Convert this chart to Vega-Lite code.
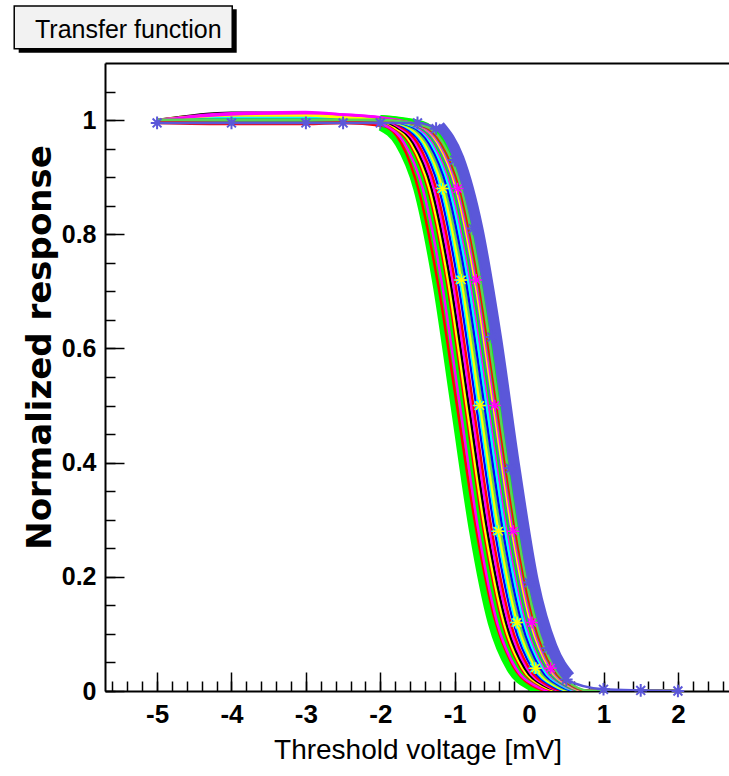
{
  "$schema": "https://vega.github.io/schema/vega-lite/v6.json",
  "width": 625,
  "height": 628,
  "autosize": {"type": "none"},
  "padding": {"left": 105, "top": 63, "right": 0, "bottom": 85},
  "background": "white",
  "config": {"view": {"stroke": null}},
  "title": {"text": "Transfer function", "anchor": "start", "frame": "group", "font": "Liberation Sans", "fontSize": 25, "fontWeight": "normal", "color": "#000", "baseline": "alphabetic", "offset": 0, "dy": 58, "dx": -70},
  "data": {"values": [
    {"c":"G1","x":-5,"y":1},{"c":"G1","x":-4,"y":1},{"c":"G1","x":-3,"y":1},{"c":"G1","x":-2.5,"y":1},{"c":"G1","x":-1.99,"y":0.99},{"c":"G1","x":-1.74,"y":0.96},{"c":"G1","x":-1.49,"y":0.88},{"c":"G1","x":-1.24,"y":0.72},{"c":"G1","x":-0.99,"y":0.5},{"c":"G1","x":-0.74,"y":0.28},{"c":"G1","x":-0.49,"y":0.12},{"c":"G1","x":-0.24,"y":0.04},{"c":"G1","x":0.01,"y":0.01},{"c":"G1","x":0.26,"y":0},{"c":"G1","x":1,"y":0},{"c":"G1","x":1.5,"y":0},{"c":"G1","x":2,"y":0},
    {"c":"G2","x":-5,"y":1},{"c":"G2","x":-4,"y":1.005},{"c":"G2","x":-3,"y":1.005},{"c":"G2","x":-2.5,"y":1},{"c":"G2","x":-1.9,"y":0.99},{"c":"G2","x":-1.65,"y":0.96},{"c":"G2","x":-1.4,"y":0.88},{"c":"G2","x":-1.15,"y":0.72},{"c":"G2","x":-0.9,"y":0.5},{"c":"G2","x":-0.65,"y":0.28},{"c":"G2","x":-0.4,"y":0.12},{"c":"G2","x":-0.15,"y":0.04},{"c":"G2","x":0.1,"y":0.01},{"c":"G2","x":0.35,"y":0},{"c":"G2","x":1,"y":0},{"c":"G2","x":1.5,"y":0},{"c":"G2","x":2,"y":0},
    {"c":"r1","x":-5,"y":0.995},{"c":"r1","x":-4,"y":0.993},{"c":"r1","x":-3,"y":0.993},{"c":"r1","x":-2.5,"y":0.995},{"c":"r1","x":-1.97,"y":0.99},{"c":"r1","x":-1.72,"y":0.96},{"c":"r1","x":-1.47,"y":0.87},{"c":"r1","x":-1.22,"y":0.71},{"c":"r1","x":-0.97,"y":0.5},{"c":"r1","x":-0.72,"y":0.29},{"c":"r1","x":-0.47,"y":0.13},{"c":"r1","x":-0.22,"y":0.045},{"c":"r1","x":0.03,"y":0.01},{"c":"r1","x":0.28,"y":0},{"c":"r1","x":1,"y":0},{"c":"r1","x":1.5,"y":0},{"c":"r1","x":2,"y":0},
    {"c":"m1","x":-5,"y":1},{"c":"m1","x":-4,"y":1.008},{"c":"m1","x":-3,"y":1.008},{"c":"m1","x":-2.5,"y":1.003},{"c":"m1","x":-1.93,"y":0.99},{"c":"m1","x":-1.68,"y":0.96},{"c":"m1","x":-1.43,"y":0.88},{"c":"m1","x":-1.18,"y":0.72},{"c":"m1","x":-0.93,"y":0.5},{"c":"m1","x":-0.68,"y":0.28},{"c":"m1","x":-0.43,"y":0.12},{"c":"m1","x":-0.18,"y":0.04},{"c":"m1","x":0.07,"y":0.01},{"c":"m1","x":0.32,"y":0},{"c":"m1","x":1,"y":0},{"c":"m1","x":1.5,"y":0},{"c":"m1","x":2,"y":0},
    {"c":"r2","x":-5,"y":1},{"c":"r2","x":-4,"y":1},{"c":"r2","x":-3,"y":1},{"c":"r2","x":-2.5,"y":1},{"c":"r2","x":-2,"y":1},{"c":"r2","x":-1.86,"y":0.99},{"c":"r2","x":-1.61,"y":0.96},{"c":"r2","x":-1.36,"y":0.88},{"c":"r2","x":-1.11,"y":0.72},{"c":"r2","x":-0.86,"y":0.5},{"c":"r2","x":-0.61,"y":0.28},{"c":"r2","x":-0.36,"y":0.12},{"c":"r2","x":-0.11,"y":0.04},{"c":"r2","x":0.14,"y":0.01},{"c":"r2","x":0.39,"y":0},{"c":"r2","x":1,"y":0},{"c":"r2","x":1.5,"y":0},{"c":"r2","x":2,"y":0},
    {"c":"y1","x":-5,"y":1},{"c":"y1","x":-4,"y":1.012},{"c":"y1","x":-3,"y":1.012},{"c":"y1","x":-2.5,"y":1.006},{"c":"y1","x":-2,"y":1},{"c":"y1","x":-1.84,"y":0.99},{"c":"y1","x":-1.59,"y":0.96},{"c":"y1","x":-1.34,"y":0.88},{"c":"y1","x":-1.09,"y":0.72},{"c":"y1","x":-0.84,"y":0.5},{"c":"y1","x":-0.59,"y":0.28},{"c":"y1","x":-0.34,"y":0.12},{"c":"y1","x":-0.09,"y":0.04},{"c":"y1","x":0.16,"y":0.01},{"c":"y1","x":0.41,"y":0},{"c":"y1","x":1,"y":-0.002},{"c":"y1","x":1.5,"y":0},{"c":"y1","x":2,"y":0},
    {"c":"k1","x":-5,"y":1},{"c":"k1","x":-4,"y":1.013},{"c":"k1","x":-3,"y":1.012},{"c":"k1","x":-2.5,"y":1.006},{"c":"k1","x":-2,"y":1},{"c":"k1","x":-1.81,"y":0.99},{"c":"k1","x":-1.56,"y":0.96},{"c":"k1","x":-1.31,"y":0.88},{"c":"k1","x":-1.06,"y":0.72},{"c":"k1","x":-0.81,"y":0.5},{"c":"k1","x":-0.56,"y":0.28},{"c":"k1","x":-0.31,"y":0.12},{"c":"k1","x":-0.06,"y":0.04},{"c":"k1","x":0.19,"y":0.01},{"c":"k1","x":0.44,"y":0},{"c":"k1","x":1,"y":-0.004},{"c":"k1","x":1.5,"y":-0.002},{"c":"k1","x":2,"y":0},
    {"c":"m2","x":-5,"y":1},{"c":"m2","x":-4,"y":1.01},{"c":"m2","x":-3,"y":1.012},{"c":"m2","x":-2.5,"y":1.008},{"c":"m2","x":-2,"y":1.002},{"c":"m2","x":-1.78,"y":0.99},{"c":"m2","x":-1.53,"y":0.96},{"c":"m2","x":-1.28,"y":0.88},{"c":"m2","x":-1.03,"y":0.72},{"c":"m2","x":-0.78,"y":0.5},{"c":"m2","x":-0.53,"y":0.28},{"c":"m2","x":-0.28,"y":0.12},{"c":"m2","x":-0.03,"y":0.04},{"c":"m2","x":0.22,"y":0.01},{"c":"m2","x":0.47,"y":0},{"c":"m2","x":1,"y":0},{"c":"m2","x":1.5,"y":0},{"c":"m2","x":2,"y":0},
    {"c":"r3","x":-5,"y":0.998},{"c":"r3","x":-4,"y":0.996},{"c":"r3","x":-3,"y":0.996},{"c":"r3","x":-2.5,"y":0.998},{"c":"r3","x":-2,"y":1},{"c":"r3","x":-1.75,"y":0.99},{"c":"r3","x":-1.5,"y":0.96},{"c":"r3","x":-1.25,"y":0.88},{"c":"r3","x":-1,"y":0.72},{"c":"r3","x":-0.75,"y":0.5},{"c":"r3","x":-0.5,"y":0.28},{"c":"r3","x":-0.25,"y":0.12},{"c":"r3","x":0,"y":0.04},{"c":"r3","x":0.25,"y":0.01},{"c":"r3","x":0.5,"y":0},{"c":"r3","x":1,"y":0},{"c":"r3","x":1.5,"y":0},{"c":"r3","x":2,"y":0},
    {"c":"b1","x":-5,"y":1},{"c":"b1","x":-4,"y":1},{"c":"b1","x":-3,"y":1},{"c":"b1","x":-2.5,"y":1},{"c":"b1","x":-2,"y":1},{"c":"b1","x":-1.71,"y":0.99},{"c":"b1","x":-1.46,"y":0.96},{"c":"b1","x":-1.21,"y":0.88},{"c":"b1","x":-0.96,"y":0.72},{"c":"b1","x":-0.71,"y":0.5},{"c":"b1","x":-0.46,"y":0.28},{"c":"b1","x":-0.21,"y":0.12},{"c":"b1","x":0.04,"y":0.04},{"c":"b1","x":0.29,"y":0.01},{"c":"b1","x":0.54,"y":0},{"c":"b1","x":1,"y":0},{"c":"b1","x":1.5,"y":0},{"c":"b1","x":2,"y":0},
    {"c":"c1","x":-5,"y":1},{"c":"c1","x":-4,"y":1.004},{"c":"c1","x":-3,"y":1.004},{"c":"c1","x":-2.5,"y":1.002},{"c":"c1","x":-2,"y":1},{"c":"c1","x":-1.68,"y":0.99},{"c":"c1","x":-1.43,"y":0.96},{"c":"c1","x":-1.18,"y":0.88},{"c":"c1","x":-0.93,"y":0.72},{"c":"c1","x":-0.68,"y":0.5},{"c":"c1","x":-0.43,"y":0.28},{"c":"c1","x":-0.18,"y":0.12},{"c":"c1","x":0.07,"y":0.04},{"c":"c1","x":0.32,"y":0.01},{"c":"c1","x":0.57,"y":0},{"c":"c1","x":1,"y":0},{"c":"c1","x":1.5,"y":0},{"c":"c1","x":2,"y":0},
    {"c":"y2","x":-5,"y":1},{"c":"y2","x":-4,"y":1.01},{"c":"y2","x":-3,"y":1.01},{"c":"y2","x":-2.5,"y":1.005},{"c":"y2","x":-2,"y":1},{"c":"y2","x":-1.66,"y":0.99},{"c":"y2","x":-1.41,"y":0.96},{"c":"y2","x":-1.16,"y":0.88},{"c":"y2","x":-0.91,"y":0.72},{"c":"y2","x":-0.66,"y":0.5},{"c":"y2","x":-0.41,"y":0.28},{"c":"y2","x":-0.16,"y":0.12},{"c":"y2","x":0.09,"y":0.04},{"c":"y2","x":0.34,"y":0.01},{"c":"y2","x":0.59,"y":0},{"c":"y2","x":1,"y":0},{"c":"y2","x":1.5,"y":0},{"c":"y2","x":2,"y":0},
    {"c":"d1","x":-5,"y":1},{"c":"d1","x":-4,"y":1},{"c":"d1","x":-3,"y":1},{"c":"d1","x":-2.5,"y":1},{"c":"d1","x":-2,"y":1},{"c":"d1","x":-1.63,"y":0.99},{"c":"d1","x":-1.38,"y":0.96},{"c":"d1","x":-1.13,"y":0.88},{"c":"d1","x":-0.88,"y":0.72},{"c":"d1","x":-0.63,"y":0.5},{"c":"d1","x":-0.38,"y":0.28},{"c":"d1","x":-0.13,"y":0.12},{"c":"d1","x":0.12,"y":0.04},{"c":"d1","x":0.37,"y":0.01},{"c":"d1","x":0.62,"y":0},{"c":"d1","x":1,"y":0},{"c":"d1","x":1.5,"y":0},{"c":"d1","x":2,"y":0},
    {"c":"b2","x":-5,"y":1},{"c":"b2","x":-4,"y":1},{"c":"b2","x":-3,"y":1},{"c":"b2","x":-2.5,"y":1},{"c":"b2","x":-2,"y":1},{"c":"b2","x":-1.6,"y":0.99},{"c":"b2","x":-1.35,"y":0.96},{"c":"b2","x":-1.1,"y":0.88},{"c":"b2","x":-0.85,"y":0.72},{"c":"b2","x":-0.6,"y":0.5},{"c":"b2","x":-0.35,"y":0.28},{"c":"b2","x":-0.1,"y":0.12},{"c":"b2","x":0.15,"y":0.04},{"c":"b2","x":0.4,"y":0.01},{"c":"b2","x":0.65,"y":0},{"c":"b2","x":1,"y":0},{"c":"b2","x":1.5,"y":0},{"c":"b2","x":2,"y":0},
    {"c":"c2","x":-5,"y":1},{"c":"c2","x":-4,"y":1},{"c":"c2","x":-3,"y":1},{"c":"c2","x":-2.5,"y":1},{"c":"c2","x":-2,"y":1},{"c":"c2","x":-1.57,"y":0.99},{"c":"c2","x":-1.32,"y":0.96},{"c":"c2","x":-1.07,"y":0.88},{"c":"c2","x":-0.82,"y":0.72},{"c":"c2","x":-0.57,"y":0.5},{"c":"c2","x":-0.32,"y":0.28},{"c":"c2","x":-0.07,"y":0.12},{"c":"c2","x":0.18,"y":0.04},{"c":"c2","x":0.43,"y":0.01},{"c":"c2","x":0.68,"y":0},{"c":"c2","x":1,"y":0},{"c":"c2","x":1.5,"y":0},{"c":"c2","x":2,"y":0},
    {"c":"m3","x":-5,"y":1},{"c":"m3","x":-4,"y":1.012},{"c":"m3","x":-3,"y":1.014},{"c":"m3","x":-2.5,"y":1.01},{"c":"m3","x":-2,"y":1.004},{"c":"m3","x":-1.54,"y":0.99},{"c":"m3","x":-1.29,"y":0.96},{"c":"m3","x":-1.04,"y":0.88},{"c":"m3","x":-0.79,"y":0.72},{"c":"m3","x":-0.54,"y":0.5},{"c":"m3","x":-0.29,"y":0.28},{"c":"m3","x":-0.04,"y":0.12},{"c":"m3","x":0.21,"y":0.04},{"c":"m3","x":0.46,"y":0.01},{"c":"m3","x":0.71,"y":0},{"c":"m3","x":1,"y":0},{"c":"m3","x":1.5,"y":0},{"c":"m3","x":2,"y":0},
    {"c":"G3","x":-5,"y":1},{"c":"G3","x":-4,"y":1},{"c":"G3","x":-3,"y":1},{"c":"G3","x":-2.5,"y":1},{"c":"G3","x":-2,"y":1},{"c":"G3","x":-1.52,"y":0.99},{"c":"G3","x":-1.27,"y":0.96},{"c":"G3","x":-1.02,"y":0.88},{"c":"G3","x":-0.77,"y":0.72},{"c":"G3","x":-0.52,"y":0.5},{"c":"G3","x":-0.27,"y":0.28},{"c":"G3","x":-0.02,"y":0.12},{"c":"G3","x":0.23,"y":0.04},{"c":"G3","x":0.48,"y":0.01},{"c":"G3","x":0.73,"y":0},{"c":"G3","x":1,"y":0},{"c":"G3","x":1.5,"y":0},{"c":"G3","x":2,"y":0},
    {"c":"v1","x":-5,"y":1},{"c":"v1","x":-4,"y":1},{"c":"v1","x":-3,"y":1},{"c":"v1","x":-2.5,"y":1},{"c":"v1","x":-2,"y":1},{"c":"v1","x":-1.5,"y":0.99},{"c":"v1","x":-1.25,"y":0.96},{"c":"v1","x":-1,"y":0.88},{"c":"v1","x":-0.75,"y":0.72},{"c":"v1","x":-0.5,"y":0.5},{"c":"v1","x":-0.25,"y":0.28},{"c":"v1","x":0,"y":0.12},{"c":"v1","x":0.25,"y":0.04},{"c":"v1","x":0.5,"y":0.01},{"c":"v1","x":0.75,"y":0},{"c":"v1","x":1,"y":0},{"c":"v1","x":1.5,"y":0},{"c":"v1","x":2,"y":0},
    {"c":"y3","x":-5,"y":1},{"c":"y3","x":-4,"y":1.008},{"c":"y3","x":-3,"y":1.008},{"c":"y3","x":-2.5,"y":1.004},{"c":"y3","x":-2,"y":1},{"c":"y3","x":-1.48,"y":0.99},{"c":"y3","x":-1.23,"y":0.96},{"c":"y3","x":-0.98,"y":0.88},{"c":"y3","x":-0.73,"y":0.72},{"c":"y3","x":-0.48,"y":0.5},{"c":"y3","x":-0.23,"y":0.28},{"c":"y3","x":0.02,"y":0.12},{"c":"y3","x":0.27,"y":0.04},{"c":"y3","x":0.52,"y":0.01},{"c":"y3","x":0.77,"y":0},{"c":"y3","x":1,"y":0},{"c":"y3","x":1.5,"y":0},{"c":"y3","x":2,"y":0},
    {"c":"m4","x":-5,"y":1},{"c":"m4","x":-4,"y":1.01},{"c":"m4","x":-3,"y":1.012},{"c":"m4","x":-2.5,"y":1.01},{"c":"m4","x":-2,"y":1.005},{"c":"m4","x":-1.46,"y":0.99},{"c":"m4","x":-1.21,"y":0.96},{"c":"m4","x":-0.96,"y":0.88},{"c":"m4","x":-0.71,"y":0.72},{"c":"m4","x":-0.46,"y":0.5},{"c":"m4","x":-0.21,"y":0.28},{"c":"m4","x":0.04,"y":0.12},{"c":"m4","x":0.29,"y":0.04},{"c":"m4","x":0.54,"y":0.01},{"c":"m4","x":0.79,"y":0},{"c":"m4","x":1,"y":0},{"c":"m4","x":1.5,"y":0},{"c":"m4","x":2,"y":0},
    {"c":"G4","x":-5,"y":1},{"c":"G4","x":-4,"y":1},{"c":"G4","x":-3,"y":1},{"c":"G4","x":-2.5,"y":1},{"c":"G4","x":-2,"y":1},{"c":"G4","x":-1.44,"y":0.99},{"c":"G4","x":-1.19,"y":0.96},{"c":"G4","x":-0.94,"y":0.88},{"c":"G4","x":-0.69,"y":0.72},{"c":"G4","x":-0.44,"y":0.5},{"c":"G4","x":-0.19,"y":0.28},{"c":"G4","x":0.06,"y":0.12},{"c":"G4","x":0.31,"y":0.04},{"c":"G4","x":0.56,"y":0.01},{"c":"G4","x":0.81,"y":0},{"c":"G4","x":1,"y":0},{"c":"G4","x":1.5,"y":0},{"c":"G4","x":2,"y":0},
    {"c":"r4","x":-5,"y":0.997},{"c":"r4","x":-4,"y":0.995},{"c":"r4","x":-3,"y":0.995},{"c":"r4","x":-2.5,"y":0.997},{"c":"r4","x":-2,"y":1},{"c":"r4","x":-1.43,"y":0.99},{"c":"r4","x":-1.18,"y":0.96},{"c":"r4","x":-0.93,"y":0.88},{"c":"r4","x":-0.68,"y":0.72},{"c":"r4","x":-0.43,"y":0.5},{"c":"r4","x":-0.18,"y":0.28},{"c":"r4","x":0.07,"y":0.12},{"c":"r4","x":0.32,"y":0.04},{"c":"r4","x":0.57,"y":0.01},{"c":"r4","x":0.82,"y":0},{"c":"r4","x":1,"y":0},{"c":"r4","x":1.5,"y":0},{"c":"r4","x":2,"y":0},
    {"c":"d2","x":-5,"y":1},{"c":"d2","x":-4,"y":1},{"c":"d2","x":-3,"y":1},{"c":"d2","x":-2.5,"y":1},{"c":"d2","x":-2,"y":1},{"c":"d2","x":-1.41,"y":0.99},{"c":"d2","x":-1.16,"y":0.96},{"c":"d2","x":-0.91,"y":0.88},{"c":"d2","x":-0.66,"y":0.72},{"c":"d2","x":-0.41,"y":0.5},{"c":"d2","x":-0.16,"y":0.28},{"c":"d2","x":0.09,"y":0.12},{"c":"d2","x":0.34,"y":0.04},{"c":"d2","x":0.59,"y":0.01},{"c":"d2","x":0.84,"y":0},{"c":"d2","x":1,"y":0},{"c":"d2","x":1.5,"y":0},{"c":"d2","x":2,"y":0},
    {"c":"P","x":-5,"y":0.995},{"c":"P","x":-4,"y":0.995},{"c":"P","x":-3,"y":0.995},{"c":"P","x":-2.5,"y":0.995},{"c":"P","x":-2,"y":0.995},{"c":"P","x":-1.5,"y":0.995},{"c":"P","x":-1.25,"y":0.985},{"c":"P","x":-1,"y":0.93},{"c":"P","x":-0.75,"y":0.81},{"c":"P","x":-0.5,"y":0.62},{"c":"P","x":-0.25,"y":0.39},{"c":"P","x":0,"y":0.19},{"c":"P","x":0.25,"y":0.075},{"c":"P","x":0.5,"y":0.02},{"c":"P","x":1,"y":0.003},{"c":"P","x":1.5,"y":0.001},{"c":"P","x":2,"y":0}
  ]},
  "resolve": {"axis": {"x": "independent", "y": "independent"}},
  "layer": [
    {
      "data": {"values": [{}]},
      "mark": {"type": "rect", "fill": "#000000", "clip": false},
      "encoding": {
        "x": {"datum": -6.86, "type": "quantitative", "scale": {"domain": [-5.7, 2.7], "nice": false, "zero": false}, "axis": null},
        "x2": {"datum": -3.93},
        "y": {"datum": 1.194, "type": "quantitative", "scale": {"domain": [0, 1.1], "nice": false, "zero": false}, "axis": null},
        "y2": {"datum": 1.118}
      }
    },
    {
      "data": {"values": [{}]},
      "mark": {"type": "rect", "fill": "#f2f2f2", "stroke": "#000000", "strokeWidth": 1.5, "clip": false},
      "encoding": {
        "x": {"datum": -6.92, "type": "quantitative", "axis": null},
        "x2": {"datum": -3.99},
        "y": {"datum": 1.2, "type": "quantitative", "axis": null},
        "y2": {"datum": 1.125}
      }
    },
    {
      "transform": [{"filter": {"field": "c", "equal": "P"}}, {"filter": {"field": "x", "range": [-1.45, 0.55]}}],
      "mark": {"type": "line", "interpolate": "monotone", "strokeWidth": 20, "color": "#5b57d9", "clip": true, "strokeCap": "butt"},
      "encoding": {
        "x": {"field": "x", "type": "quantitative", "axis": {"orient": "bottom", "values": [-5.6,-5.4,-5.2,-5,-4.8,-4.6,-4.4,-4.2,-4,-3.8,-3.6,-3.4,-3.2,-3,-2.8,-2.6,-2.4,-2.2,-2,-1.8,-1.6,-1.4,-1.2,-1,-0.8,-0.6,-0.4,-0.2,0,0.2,0.4,0.6,0.8,1,1.2,1.4,1.6,1.8,2,2.2,2.4,2.6], "labels": false, "domain": false, "grid": false, "ticks": true, "tickSize": -10, "tickColor": "#000", "tickWidth": 1.5, "title": null}},
        "y": {"field": "y", "type": "quantitative", "axis": {"orient": "left", "values": [0,0.05,0.1,0.15,0.2,0.25,0.3,0.35,0.4,0.45,0.5,0.55,0.6,0.65,0.7,0.75,0.8,0.85,0.9,0.95,1,1.05], "labels": false, "domain": false, "grid": false, "ticks": true, "tickSize": -10, "tickColor": "#000", "tickWidth": 1.5, "title": null}}
      }
    },
    {
      "transform": [{"filter": {"field": "c", "oneOf": ["G1", "G2", "G3", "G4"]}}, {"filter": {"field": "x", "range": [-2.0, 0.3]}}],
      "mark": {"type": "line", "interpolate": "monotone", "strokeWidth": 10, "color": "#00ff00", "clip": true, "strokeCap": "butt"},
      "encoding": {
        "detail": {"field": "c"},
        "x": {"field": "x", "type": "quantitative", "axis": {"orient": "bottom", "values": [-5,-4,-3,-2,-1,0,1,2], "labels": false, "domain": false, "grid": false, "ticks": true, "tickSize": -19, "tickColor": "#000", "tickWidth": 1.5, "title": null}},
        "y": {"field": "y", "type": "quantitative", "axis": {"orient": "left", "values": [0,0.2,0.4,0.6,0.8,1], "labels": false, "domain": false, "grid": false, "ticks": true, "tickSize": -19, "tickColor": "#000", "tickWidth": 1.5, "title": null}}
      }
    },
    {
      "transform": [{"filter": {"not": {"field": "c", "equal": "P"}}}],
      "mark": {"type": "line", "interpolate": "monotone", "strokeWidth": 2.5, "clip": true},
      "encoding": {
        "color": {"field": "c", "type": "nominal", "legend": null, "scale": {
          "domain": ["G1","G2","r1","m1","r2","y1","k1","m2","r3","b1","c1","y2","d1","b2","c2","m3","G3","v1","y3","m4","G4","r4","d2","P"],
          "range": ["#00ff00","#00ff00","#ff0000","#ff00ff","#ff0000","#ffff00","#000000","#ff00ff","#ff0000","#0000ff","#00ffff","#ffff00","#59d454","#0000ff","#00ffff","#ff00ff","#00ff00","#5b57d9","#ffff00","#ff00ff","#00ff00","#ff0000","#59d454","#5b57d9"]}},
        "x": {"field": "x", "type": "quantitative", "axis": {"orient": "bottom", "values": [-5,-4,-3,-2,-1,0,1,2], "labelExpr": "datum.value < 0 ? '-' + abs(datum.value) : '' + datum.value", "ticks": false, "grid": false, "domain": true, "domainColor": "#000", "domainWidth": 2, "labelFont": "Liberation Sans", "labelFontWeight": "bold", "labelFontSize": 26, "labelColor": "#000", "labelPadding": 10, "labelFlush": false, "labelOverlap": false, "title": "Threshold voltage [mV]", "titleFont": "Liberation Sans", "titleFontSize": 28, "titleFontWeight": "normal", "titleColor": "#000", "titlePadding": 9}},
        "y": {"field": "y", "type": "quantitative", "axis": {"orient": "left", "values": [0,0.2,0.4,0.6,0.8,1], "labelExpr": "'' + datum.value", "ticks": false, "grid": false, "domain": true, "domainColor": "#000", "domainWidth": 2, "labelFont": "Liberation Sans", "labelFontWeight": "bold", "labelFontSize": 25, "labelColor": "#000", "labelPadding": 9, "labelFlush": false, "labelOverlap": false, "title": "Normalized response", "titleFont": "DejaVu Sans", "titleFontSize": 34, "titleFontWeight": "bold", "titleColor": "#000", "titlePadding": 4, "titleY": 284}}
      }
    },
    {
      "transform": [{"filter": {"field": "c", "equal": "P"}}],
      "mark": {"type": "line", "interpolate": "monotone", "strokeWidth": 2.5, "color": "#5b57d9", "clip": true},
      "encoding": {
        "x": {"field": "x", "type": "quantitative", "axis": {"orient": "top", "labels": false, "ticks": false, "grid": false, "domain": true, "domainColor": "#000", "domainWidth": 2, "title": null}},
        "y": {"field": "y", "type": "quantitative", "axis": null}
      }
    },
    {
      "transform": [{"filter": {"field": "c", "oneOf": ["c1","y2","m4"]}}, {"filter": {"field": "x", "range": [-1.2, 0.3]}}],
      "mark": {"type": "point", "shape": "M-1,0L1,0M0,-1L0,1M-0.7,-0.7L0.7,0.7M-0.7,0.7L0.7,-0.7", "filled": false, "size": 140, "strokeWidth": 1.5, "opacity": 1},
      "encoding": {
        "color": {"field": "c", "type": "nominal", "legend": null},
        "x": {"field": "x", "type": "quantitative", "axis": null},
        "y": {"field": "y", "type": "quantitative", "axis": null}
      }
    },
    {
      "transform": [{"filter": {"field": "c", "equal": "P"}}],
      "mark": {"type": "point", "shape": "M-1,0L1,0M0,-1L0,1M-0.7,-0.7L0.7,0.7M-0.7,0.7L0.7,-0.7", "filled": false, "size": 160, "strokeWidth": 2, "color": "#5b57d9", "opacity": 1},
      "encoding": {
        "x": {"field": "x", "type": "quantitative", "axis": null},
        "y": {"field": "y", "type": "quantitative", "axis": null}
      }
    }
  ]
}
